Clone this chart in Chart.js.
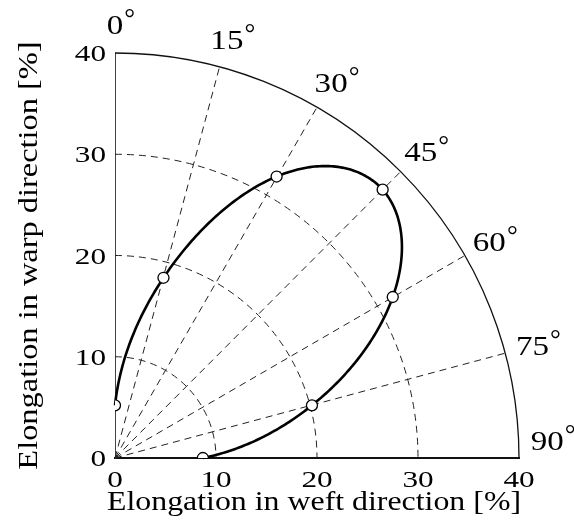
<!DOCTYPE html>
<html><head><meta charset="utf-8">
<script src="https://cdn.jsdelivr.net/npm/chart.js@4/dist/chart.umd.min.js"></script>
<style>html,body{margin:0;padding:0;background:#fff}#wrap{width:574px;height:525px}</style>
</head><body><div id="wrap"><canvas id="c" width="574" height="525"></canvas></div>
<script>
// data
const weftX = [0, 4.8, 16.0, 26.5, 27.5, 19.5, 8.7];
const warpY = [5.2, 17.8, 27.8, 26.5, 15.9, 5.2, 0];
const gridRadii = [10, 20, 30];
const outerRadius = 40;
const spokeAngles = [15, 30, 45, 60, 75];
const angleLabels = ['0', '15', '30', '45', '60', '75', '90'];
const angleLabelDeg = [0, 15, 30, 45, 60, 75, 90];
const xTitle = 'Elongation in weft direction [%]';
const yTitle = 'Elongation in warp direction [%]';

const FONT = '"Liberation Serif","Times New Roman",serif';

// natural cubic spline helper (used only to render the smooth curve through the data points)
function naturalSpline(t, v) {
  const n = t.length, h = [], alpha = [], l = [1], mu = [0], z = [0];
  const b = [], c = [], d = [];
  for (let i = 0; i < n - 1; i++) h[i] = t[i + 1] - t[i];
  for (let i = 1; i < n - 1; i++) alpha[i] = 3 / h[i] * (v[i + 1] - v[i]) - 3 / h[i - 1] * (v[i] - v[i - 1]);
  for (let i = 1; i < n - 1; i++) {
    l[i] = 2 * (t[i + 1] - t[i - 1]) - h[i - 1] * mu[i - 1];
    mu[i] = h[i] / l[i];
    z[i] = (alpha[i] - h[i - 1] * z[i - 1]) / l[i];
  }
  c[n - 1] = 0;
  for (let j = n - 2; j >= 0; j--) {
    c[j] = z[j] - mu[j] * c[j + 1];
    b[j] = (v[j + 1] - v[j]) / h[j] - h[j] * (c[j + 1] + 2 * c[j]) / 3;
    d[j] = (c[j + 1] - c[j]) / (3 * h[j]);
  }
  return function (s) {
    let j = 0;
    while (j < n - 2 && s > t[j + 1]) j++;
    const dx = s - t[j];
    return v[j] + b[j] * dx + c[j] * dx * dx + d[j] * dx * dx * dx;
  };
}

function stretchText(ctx, text, x, y, font, sx, align, baseline, rot) {
  ctx.save();
  ctx.font = font;
  ctx.textAlign = align;
  ctx.textBaseline = baseline;
  ctx.translate(x, y);
  if (rot) ctx.rotate(rot);
  ctx.scale(sx, 1);
  ctx.fillText(text, 0, 0);
  ctx.restore();
}

const polarGrid = {
  id: 'polarGrid',
  beforeDatasetsDraw(chart) {
    const ctx = chart.ctx, xs = chart.scales.x, ys = chart.scales.y;
    const cx = xs.getPixelForValue(0), cy = ys.getPixelForValue(0);
    const sx = (r) => xs.getPixelForValue(r) - cx;
    const sy = (r) => cy - ys.getPixelForValue(r);
    ctx.save();
    ctx.strokeStyle = '#222';
    ctx.lineWidth = 1;
    ctx.setLineDash([7, 5]);
    gridRadii.forEach(r => {
      ctx.beginPath();
      ctx.ellipse(cx, cy, sx(r), sy(r), 0, -Math.PI / 2, 0);
      ctx.stroke();
    });
    spokeAngles.forEach(a => {
      const t = a * Math.PI / 180;
      ctx.beginPath();
      ctx.moveTo(cx, cy);
      ctx.lineTo(xs.getPixelForValue(outerRadius * Math.sin(t)), ys.getPixelForValue(outerRadius * Math.cos(t)));
      ctx.stroke();
    });
    ctx.setLineDash([]);
    ctx.lineWidth = 1.3;
    ctx.strokeStyle = '#111';
    ctx.beginPath();
    ctx.ellipse(cx, cy, sx(outerRadius), sy(outerRadius), 0, -Math.PI / 2, 0);
    ctx.stroke();

    // smooth curve through the measured points, spline in polar form r(theta)
    const th = weftX.map((x, i) => Math.atan2(x, warpY[i]));
    const rr = weftX.map((x, i) => Math.hypot(x, warpY[i]));
    const f = naturalSpline(th, rr);
    ctx.lineWidth = 2.6;
    ctx.strokeStyle = '#000';
    ctx.lineJoin = 'round';
    ctx.beginPath();
    const N = 300;
    for (let k = 0; k <= N; k++) {
      const s = th[0] + (th[th.length - 1] - th[0]) * k / N;
      const r = f(s);
      const px = xs.getPixelForValue(r * Math.sin(s));
      const py = ys.getPixelForValue(r * Math.cos(s));
      if (k === 0) ctx.moveTo(px, py); else ctx.lineTo(px, py);
    }
    ctx.stroke();
    ctx.restore();
  },
  afterDraw(chart) {
    const ctx = chart.ctx, xs = chart.scales.x, ys = chart.scales.y;
    const cx = xs.getPixelForValue(0), cy = ys.getPixelForValue(0);
    ctx.save();
    ctx.fillStyle = '#000';
    // tick labels
    const tickFont = '24px ' + FONT;
    xs.ticks.forEach(t => {
      stretchText(ctx, String(t.value), xs.getPixelForValue(t.value), cy + 29, tickFont, 1.3, 'center', 'alphabetic');
    });
    ys.ticks.forEach(t => {
      stretchText(ctx, String(t.value), cx - 9, ys.getPixelForValue(t.value) + 8, tickFont, 1.3, 'right', 'alphabetic');
    });
    // axis titles
    const titleFont = '27px ' + FONT;
    stretchText(ctx, xTitle, (chart.chartArea.left + chart.chartArea.right) / 2 - 3, 510, titleFont, 1.18, 'center', 'alphabetic');
    stretchText(ctx, yTitle, 37, (chart.chartArea.top + chart.chartArea.bottom) / 2, titleFont, 1.2, 'center', 'alphabetic', -Math.PI / 2);
    // angle labels
    const labFont = '28px ' + FONT;
    angleLabels.forEach((lab, i) => {
      const t = angleLabelDeg[i] * Math.PI / 180;
      const R = 42.8;
      let px = xs.getPixelForValue(R * Math.sin(t));
      let py = ys.getPixelForValue(R * Math.cos(t));
      if (py > cy - 18) py = cy - 18;
      ctx.font = labFont;
      const w = ctx.measureText(lab).width * 1.18;
      stretchText(ctx, lab, px, py + 9.5, labFont, 1.18, 'center', 'alphabetic');
      stretchText(ctx, '\u00B0', px + w / 2 + 1, py + 2.5, '27px ' + FONT, 1, 'left', 'alphabetic');
    });
    ctx.restore();
  }
};

new Chart(document.getElementById('c'), {
  type: 'line',
  data: {
    datasets: [{
      data: weftX.map((x, i) => ({ x: x, y: warpY[i] })),
      showLine: false,
      borderColor: '#000',
      pointRadius: 5.5,
      pointBackgroundColor: '#fff',
      pointBorderColor: '#000',
      pointBorderWidth: 1.3
    }]
  },
  options: {
    responsive: false,
    animation: false,
    events: [],
    layout: { padding: { left: 0, right: 55, top: 53, bottom: 0 } },
    plugins: { legend: { display: false }, tooltip: { enabled: false } },
    scales: {
      x: {
        type: 'linear', min: 0, max: 40,
        ticks: { stepSize: 10, display: false },
        grid: { display: false },
        border: { display: true, color: '#111', width: 2 },
        title: { display: false, text: xTitle },
        afterFit(s) { s.height = 67; }
      },
      y: {
        type: 'linear', min: 0, max: 40,
        ticks: { stepSize: 10, display: false },
        grid: { display: false },
        border: { display: true, color: '#444', width: 1 },
        title: { display: false, text: yTitle },
        afterFit(s) { s.width = 115; }
      }
    }
  },
  plugins: [polarGrid]
});
</script></body></html>
